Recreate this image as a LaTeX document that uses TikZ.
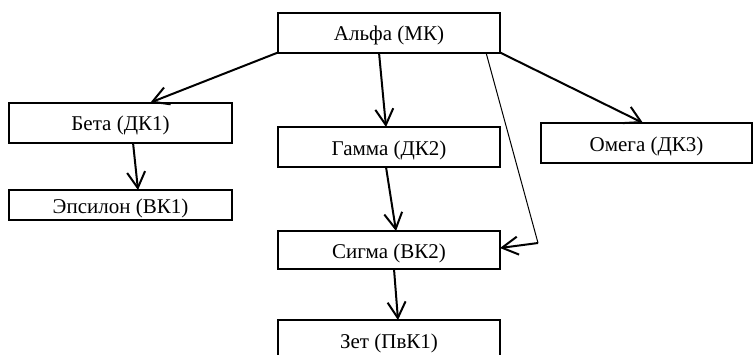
\documentclass[tikz,border=0pt]{standalone}
\usepackage{fontspec}
\setmainfont{Liberation Serif}
\usetikzlibrary{arrows.meta}

\begin{document}
\begin{tikzpicture}[x=0.5pt,y=-0.5pt,
>={Straight Barb[length=8pt,width=9pt]},
box/.style={draw,line width=1pt,inner sep=0pt,outer sep=0pt,
minimum height=20pt,minimum width=111pt,
text height=8pt,text depth=0pt,
font=\fontsize{10.5}{12}\selectfont}]
\clip (0,0) rectangle (753,354);
\useasboundingbox (0,0) rectangle (753,354);
\node[box] (alfa) at (389,32.5) {Альфа (МК)};
\node[box,minimum width=111.5pt] (beta) at (120.5,122.5) {Бета (ДК1)};
\node[box,minimum width=111.5pt,minimum height=15pt] (eps) at (120.5,205) {Эпсилон (ВК1)};
\node[box] (gamma) at (389,147) {Гамма (ДК2)};
\node[box,minimum height=19pt] (sigma) at (389,250) {Сигма (ВК2)};
\node[box] (zet) at (389,340) {Зет (ПвК1)};
\node[box,minimum width=105.5pt] (omega) at (646.5,143) {Омега (ДК3)};
\coordinate (knee) at (538,243);
\path[->,line width=1pt]
(alfa.south west) edge ([xshift=15pt]beta.north)
([xshift=-5pt]alfa.south) edge ([xshift=-1.5pt]gamma.north)
(alfa.south east) edge ([xshift=-1.75pt]omega.north)
([xshift=6.25pt]beta.south) edge ([xshift=8.75pt]eps.north)
([xshift=-1.5pt]gamma.south) edge ([xshift=3.5pt]sigma.north)
([xshift=2.5pt]sigma.south) edge ([xshift=4.5pt]zet.north)
(knee) edge ([yshift=1pt]sigma.east);
\draw[line width=0.5pt] ([xshift=-7pt]alfa.south east) -- (knee);
\end{tikzpicture}
\end{document}
